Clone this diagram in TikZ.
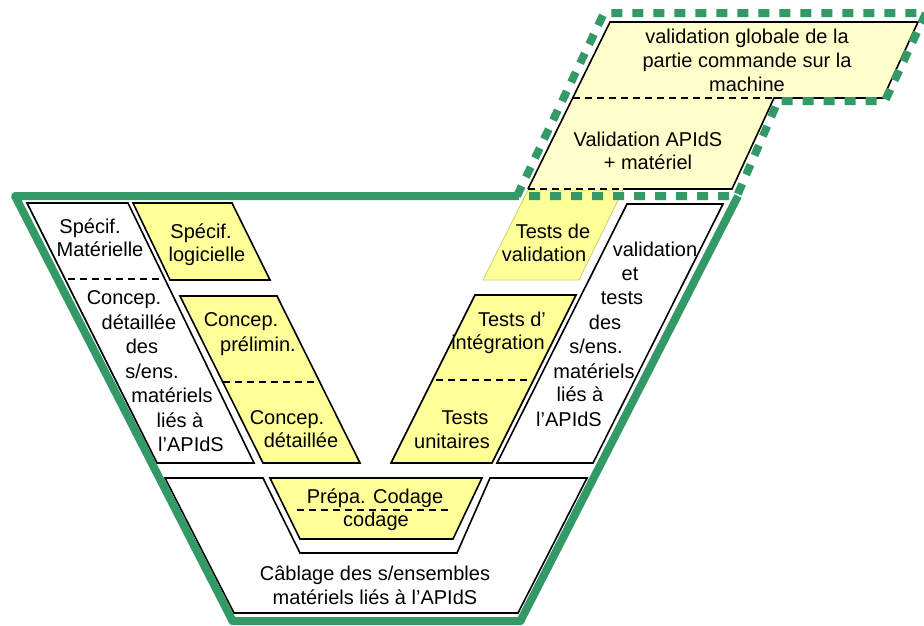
\documentclass[tikz,border=0pt]{standalone}
\usepackage{fontspec}
\setmainfont{Liberation Sans}
\definecolor{vgreen}{RGB}{51,153,102}
\definecolor{vyellow}{RGB}{255,255,153}
\definecolor{vpale}{RGB}{255,255,204}
\definecolor{vedge}{RGB}{205,205,110}

\begin{document}
\begin{tikzpicture}[x=1pt, y=-1pt,
		box/.style={draw=black, line width=1.6pt},
		sep/.style={line width=1.3pt, dash pattern=on 7pt off 5pt},
		frame/.style={draw=vgreen, line width=8pt, line join=round},
		dotframe/.style={draw=vgreen, line width=8pt, dash pattern=on 11pt off 10pt},
		lbl/.style={anchor=base, inner sep=0pt, font=\fontsize{20}{24}\selectfont}]
		\useasboundingbox (0,0) rectangle (924,625);
		
		% Right branch
		\draw[draw=vedge, line width=0.8pt, fill=vyellow] (528,190) -- (623,190) -- (579,280) -- (483,280) -- cycle;
		\draw[box, fill=white] (627,204) -- (723,204) -- (593,463) -- (497,463) -- cycle;
		\draw[box, fill=vyellow] (475,295) -- (576,295) -- (492,463) -- (391,463) -- cycle;
		\draw[sep] (436,380) -- (528,380);
		
		% Upper validation stage
		\fill[vpale] (610,22) -- (918,22) -- (883,98) -- (774,98) -- (732,189) -- (528,189) -- cycle;
		\draw[box] (623,189) -- (732,189) -- (774,98) -- (883,98) -- (918,22) -- (610,22) -- (528,189);
		\draw[sep] (528,189) -- (623,189);
		\draw[sep] (573,98) -- (774,98);
		
		% Left branch
		\draw[box, fill=white] (27,203) -- (128,203) -- (254,463) -- (157,463) -- cycle;
		\draw[sep] (68,279) -- (163,279);
		\draw[box, fill=vyellow] (133,203) -- (232,203) -- (270,280) -- (170,280) -- cycle;
		\draw[box, fill=vyellow] (180,296) -- (277,296) -- (360,463) -- (263,463) -- cycle;
		\draw[sep] (223,382) -- (316,382);
		
		% Bottom of the V
		\draw[box, fill=white] (165,478) -- (263,478) -- (300,553) -- (457,553) -- (490,478) -- (587,478) -- (518,613) -- (234,613) -- cycle;
		\draw[box, fill=vyellow] (270,478) -- (482,478) -- (453,539) -- (300,539) -- cycle;
		\draw[sep] (297,510) -- (452,510);
		
		% Green outlines
		\draw[frame] (517,196) -- (15,196) -- (232.6,621) -- (520.4,621) -- (738,196);
		\draw[dotframe] (517,196) -- (604,13) -- (926,13) -- (885,101) -- (778,101) -- (737,196) -- cycle;
		
		% Texts, left
		\node[lbl] (specmat1) at (90,233) {Spécif.};
		\node[lbl] (specmat2) at (100,256) {Matérielle};
		\node[lbl] (conmat1) at (124,304) {Concep.};
		\node[lbl] (conmat2) at (139,329) {détaillée};
		\node[lbl] (conmat3) at (142,353) {des};
		\node[lbl] (conmat4) at (152,378) {s/ens.};
		\node[lbl] (conmat5) at (172,402) {matériels};
		\node[lbl] (conmat6) at (180,427) {liés à};
		\node[lbl] (conmat7) at (191,451) {l’APIdS};
		\node[lbl] (speclog1) at (201,238) {Spécif.};
		\node[lbl] (speclog2) at (207,261) {logicielle};
		\node[lbl] (conpre1) at (241,326) {Concep.};
		\node[lbl] (conpre2) at (258,351) {prélimin.};
		\node[lbl] (condet1) at (287,424) {Concep.};
		\node[lbl] (condet2) at (301,447) {détaillée};
		
		% Texts, bottom
		\node[lbl] (prepa) at (375,503) {Prépa. Codage};
		\node[lbl] (codage) at (376,526) {codage};
		\node[lbl] (cablage1) at (375,580) {Câblage des s/ensembles};
		\node[lbl] (cablage2) at (375,604) {matériels liés à l’APIdS};
		
		% Texts, right
		\node[lbl] (testint1) at (512,326) {Tests d’};
		\node[lbl] (testint2) at (498,349) {intégration};
		\node[lbl] (testuni1) at (465,424) {Tests};
		\node[lbl] (testuni2) at (452,448) {unitaires};
		\node[lbl] (testval1) at (553,238) {Tests de};
		\node[lbl] (testval2) at (544,261) {validation};
		\node[lbl] (valmat1) at (655,256) {validation};
		\node[lbl] (valmat2) at (630,280) {et};
		\node[lbl] (valmat3) at (622,304) {tests};
		\node[lbl] (valmat4) at (605,329) {des};
		\node[lbl] (valmat5) at (596,353) {s/ens.};
		\node[lbl] (valmat6) at (594,378) {matériels};
		\node[lbl] (valmat7) at (580,401) {liés à};
		\node[lbl] (valmat8) at (569,426) {l’APIdS};
		
		% Texts, upper stage
		\node[lbl] (global1) at (747,43) {validation globale de la};
		\node[lbl] (global2) at (747,67) {partie commande sur la};
		\node[lbl] (global3) at (747,91) {machine};
		\node[lbl] (apids1) at (648,146) {Validation APIdS};
		\node[lbl] (apids2) at (648,169) {+ matériel};
	\end{tikzpicture}
\end{document}
